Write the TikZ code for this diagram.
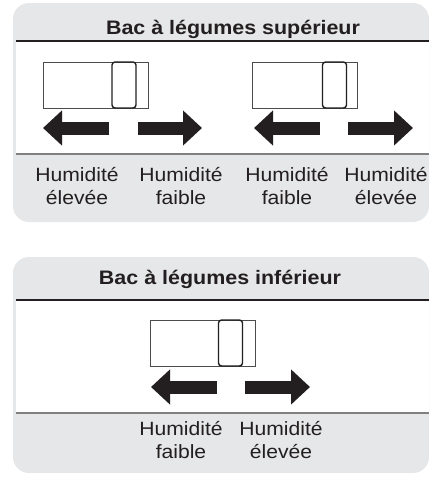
\documentclass[tikz,border=0pt]{standalone}
\usepackage{fontspec}
\setmainfont{Liberation Sans}[FakeStretch=1.1]
\usetikzlibrary{arrows.meta}
\definecolor{panelgray}{HTML}{E6E7E8}
\definecolor{inkblack}{HTML}{231F20}
\definecolor{rulegray}{HTML}{808080}

\begin{document}
\begin{tikzpicture}[x=1pt, y=-1pt,
  panel/.style={rectangle, fill=panelgray, rounded corners=16pt, inner sep=0pt, minimum width=416pt},
  band/.style={rectangle, fill=white, inner sep=0pt, minimum width=413pt, minimum height=113pt},
  title/.style={font=\bfseries\fontsize{19.5}{23}\selectfont, text=inkblack, anchor=base, inner sep=0pt},
  label/.style={font=\fontsize{19.2}{22.8}\selectfont, text=inkblack, align=center, anchor=base, inner sep=0pt},
  slider/.style={rectangle, draw=gray!60!black, line width=0.7pt, inner sep=0pt, minimum width=105pt, minimum height=46pt},
  knob/.style={rectangle, draw=inkblack, line width=1.4pt, rounded corners=3pt, inner sep=0pt, minimum width=24pt, minimum height=46pt},
  fat/.style={line width=13pt, inkblack, -{Triangle[length=19pt, width=34pt]}},
  toprule/.style={inkblack, line width=1.5pt},
  botrule/.style={rulegray, line width=2pt}
]
\useasboundingbox (0,0) rectangle (432,477);

% upper crisper
\node[panel, minimum height=219pt] (upper) at (221,112.5) {};
\node[band] (upperband) at (222.5,97.5) {};
\draw[toprule] (upperband.north west) -- (upperband.north east);
\draw[botrule] (upperband.south west) -- (upperband.south east);
\node[title] (uppertitle) at (233,34) {Bac à légumes supérieur};

\node[slider] (slidera) at (95.5,85) {};
\node[knob] (knoba) at (124,85) {};
\node[slider] (sliderb) at (304.5,85) {};
\node[knob] (knobb) at (334.5,85) {};

\draw[fat] (109,128) -- (43,128);
\draw[fat] (138,128) -- (202,128);
\draw[fat] (320,128) -- (254,128);
\draw[fat] (348,128) -- (413,128);

\node[label] (hia) at (77,204) {Humidité\\élevée};
\node[label] (loa) at (181,204) {Humidité\\faible};
\node[label] (lob) at (287,204) {Humidité\\faible};
\node[label] (hib) at (386,204) {Humidité\\élevée};

% lower crisper
\node[panel, minimum height=216pt] (lower) at (221,365) {};
\node[band] (lowerband) at (222.5,356.5) {};
\draw[toprule] (lowerband.north west) -- (lowerband.north east);
\draw[botrule] (lowerband.south west) -- (lowerband.south east);
\node[title] (lowertitle) at (220,284) {Bac à légumes inférieur};

\node[slider] (sliderc) at (203,343) {};
\node[knob] (knobc) at (230.5,343) {};

\draw[fat] (217,387) -- (151,387);
\draw[fat] (245,387) -- (310,387);

\node[label] (loc) at (181,458) {Humidité\\faible};
\node[label] (hic) at (281,458) {Humidité\\élevée};
\end{tikzpicture}
\end{document}
